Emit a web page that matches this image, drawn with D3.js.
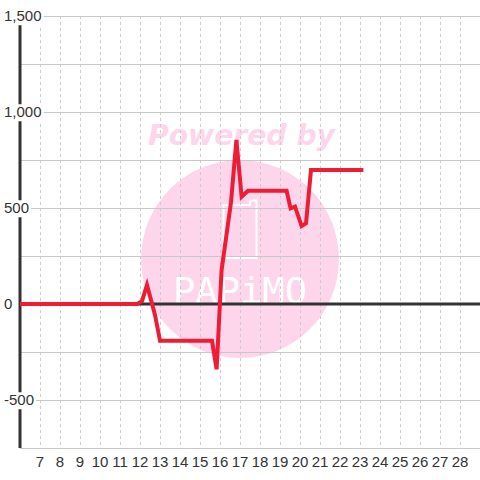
<!DOCTYPE html>
<html>
<head>
<meta charset="utf-8">
<script src="https://cdn.jsdelivr.net/npm/d3@7"></script>
<style>
  body { margin: 0; background: #fff; }
  text { font-family: "Liberation Sans", Arial, sans-serif; }
</style>
</head>
<body>
<div id="chart"></div>
<script>
// data
var xValues = [6, 11.85, 12.1, 12.35, 12.75, 13.0, 15.6, 15.83, 16.08, 16.55, 16.82, 17.08, 17.4, 19.33, 19.53, 19.75, 20.08, 20.3, 20.55, 23.17];
var yValues = [0, 0, 15, 99, -57, -191, -191, -340, 177, 530, 855, 559, 590, 590, 498, 507, 406, 420, 698, 698];
var xTicks = d3.range(7, 29);
var yTicks = [-500, 0, 500, 1000, 1500];
var yGrid = d3.range(-750, 1501, 250);

var W = 480, H = 480;
var margin = {top: 16, right: 0, bottom: 32, left: 20};
var width = W - margin.left - margin.right;
var height = H - margin.top - margin.bottom;

var xScale = d3.scaleLinear().domain([6, 29]).range([0, width]);
var yScale = d3.scaleLinear().domain([-750, 1500]).range([height, 0]);

var svg = d3.select("#chart").append("svg")
    .attr("width", W)
    .attr("height", H);

// watermark (behind everything)
var wm = svg.append("g").attr("class", "watermark");
wm.append("circle")
    .attr("cx", 240).attr("cy", 259).attr("r", 99)
    .attr("fill", "#fdd6ec");
wm.append("text")
    .attr("x", 148).attr("y", 145)
    .attr("textLength", 187)
    .attr("lengthAdjust", "spacingAndGlyphs")
    .style("font-family", "'DejaVu Sans', sans-serif")
    .style("font-weight", "bold")
    .style("font-style", "italic")
    .style("font-size", "29px")
    .attr("fill", "#fdd6ec")
    .text("Powered by");
wm.append("path")
    .attr("d", "M223.5,205 H250 V200.5 H256.5 V258 H223.5 Z")
    .attr("fill", "none")
    .attr("stroke", "#fff")
    .attr("stroke-width", 2);
wm.append("text")
    .attr("x", 173).attr("y", 303)
    .attr("textLength", 134)
    .attr("lengthAdjust", "spacingAndGlyphs")
    .style("font-family", "'DejaVu Sans Mono', monospace")
    .style("font-size", "36px")
    .attr("fill", "#fff")
    .text("PAPiMO");

var g = svg.append("g")
    .attr("transform", "translate(" + margin.left + "," + margin.top + ")");

// grid
g.append("g")
    .attr("class", "grid-x")
  .selectAll("line")
  .data(xTicks)
  .enter().append("line")
    .attr("x1", function(d) { return Math.round(xScale(d)) + 0.5; })
    .attr("x2", function(d) { return Math.round(xScale(d)) + 0.5; })
    .attr("y1", 0)
    .attr("y2", height)
    .attr("stroke", "#cccccc")
    .attr("stroke-dasharray", "3,3");

g.append("g")
    .attr("class", "grid-y")
  .selectAll("line")
  .data(yGrid)
  .enter().append("line")
    .attr("x1", 0)
    .attr("x2", width)
    .attr("y1", function(d) { return Math.round(yScale(d)) + 0.5; })
    .attr("y2", function(d) { return Math.round(yScale(d)) + 0.5; })
    .attr("stroke", "#c8c8c8");

// axes lines
g.append("line")
    .attr("x1", 0).attr("x2", 0)
    .attr("y1", 0).attr("y2", height)
    .attr("stroke", "#333")
    .attr("stroke-width", 3);

g.append("line")
    .attr("x1", 0).attr("x2", width)
    .attr("y1", yScale(0)).attr("y2", yScale(0))
    .attr("stroke", "#333")
    .attr("stroke-width", 3);

// y labels with white boxes
var fmt = d3.format(",");
var yl = svg.append("g").attr("class", "y-labels")
  .selectAll("g")
  .data(yTicks)
  .enter().append("g");

yl.append("rect").attr("fill", "#fff");
yl.append("text")
    .attr("x", 4)
    .attr("y", function(d) { return margin.top + yScale(d); })
    .attr("dy", "0.35em")
    .style("font-size", "15px")
    .attr("fill", "#333")
    .text(function(d) { return fmt(d).replace("\u2212", "-"); });

yl.each(function() {
  var t = d3.select(this).select("text");
  var b = t.node().getBBox();
  d3.select(this).select("rect")
    .attr("x", b.x - 2).attr("y", b.y + 1)
    .attr("width", b.width + 4).attr("height", b.height);
});

// x labels
svg.append("g").attr("class", "x-labels")
  .selectAll("text")
  .data(xTicks)
  .enter().append("text")
    .attr("x", function(d) { return margin.left + xScale(d); })
    .attr("y", 467)
    .attr("text-anchor", "middle")
    .style("font-size", "15px")
    .attr("fill", "#333")
    .text(function(d) { return d; });

// series line
var line = d3.line()
    .x(function(d, i) { return xScale(xValues[i]); })
    .y(function(d) { return yScale(d); });

g.append("path")
    .datum(yValues)
    .attr("class", "line")
    .attr("d", line)
    .attr("fill", "none")
    .attr("stroke", "#ee1c34")
    .attr("stroke-width", 4)
    .attr("stroke-linejoin", "miter");
</script>
</body>
</html>
